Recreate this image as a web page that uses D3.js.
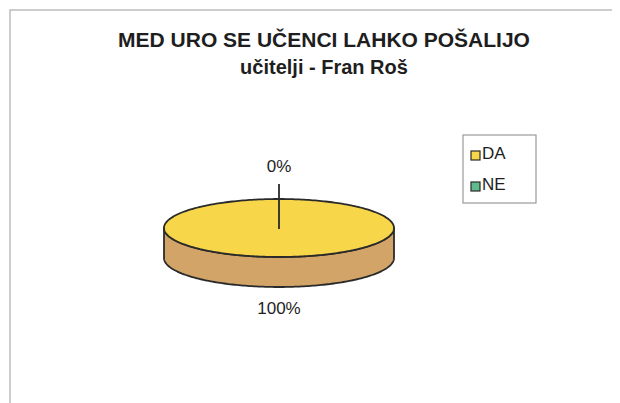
<!DOCTYPE html>
<html>
<head>
<meta charset="utf-8">
<script src="https://cdn.jsdelivr.net/npm/d3@7"></script>
<style>
  body { margin: 0; background: #fff; }
  text { font-family: "Liberation Sans", Arial, sans-serif; fill: #1e1e1e; }
</style>
</head>
<body>
<svg id="chart" width="620" height="403"></svg>
<script>
// data
const categories = ["DA", "NE"];
const values = [100, 0];
const labels = ["100%", "0%"];
const titleLines = ["MED URO SE UČENCI LAHKO POŠALIJO", "učitelji - Fran Roš"];

const topColors = ["#f8d64a", "#5fbb8e"];
const sideColors = ["#d3a467", "#3f9a6c"];

let svg = d3.select("#chart"),
    cx = 279, cy = 228,
    rx = 115, ry = 29,
    depth = 30;

// frame
svg.append("path")
    .attr("d", "M10,403 L10,10 L612,10")
    .attr("fill", "none")
    .attr("stroke", "#bdbdbd")
    .attr("stroke-width", 1.5);

svg.selectAll(".title")
    .data(titleLines)
    .enter().append("text")
    .attr("x", 324)
    .attr("y", (d, i) => 47 + i * 27)
    .attr("text-anchor", "middle")
    .attr("font-size", (d, i) => i ? 20 : 21)
    .attr("font-weight", "bold")
    .text(d => d);

let pie = d3.pie().sort(null).value(d => d);
let arcs = pie(values);

function pt(a, dy) {
    return [cx + rx * Math.sin(a), cy - ry * Math.cos(a) + (dy || 0)];
}
function arcPts(a0, a1, dy) {
    let n = Math.max(2, Math.ceil(Math.abs(a1 - a0) / 0.02));
    return d3.range(n + 1).map(i => pt(a0 + (a1 - a0) * i / n, dy));
}
const line = d3.line();

let g = svg.append("g");

// side walls (front half only)
arcs.forEach((d, i) => {
    let a0 = Math.max(d.startAngle, Math.PI / 2),
        a1 = Math.min(d.endAngle, Math.PI * 3 / 2);
    if (a1 <= a0) return;
    let top = arcPts(a0, a1, 0),
        bot = arcPts(a1, a0, depth);
    g.append("path")
        .attr("d", line(top.concat(bot)) + "Z")
        .attr("fill", sideColors[i])
        .attr("stroke", "#2a2a2a")
        .attr("stroke-width", 1.8)
        .attr("stroke-linejoin", "round");
});

// top faces
arcs.forEach((d, i) => {
    if (d.endAngle - d.startAngle <= 0) return;
    let pts = arcPts(d.startAngle, d.endAngle, 0);
    let full = d.endAngle - d.startAngle >= Math.PI * 2 - 1e-6;
    g.append("path")
        .attr("d", full ? line(pts) + "Z" : "M" + cx + "," + cy + "L" + line(pts).slice(1) + "Z")
        .attr("fill", topColors[i])
        .attr("stroke", "#2a2a2a")
        .attr("stroke-width", 1.8)
        .attr("stroke-linejoin", "round");
});

// labels
arcs.forEach((d, i) => {
    if (d.value === 0) {
        // zero slice: label above with leader line to centre
        g.append("line")
            .attr("x1", cx).attr("y1", 184)
            .attr("x2", cx).attr("y2", cy + 1)
            .attr("stroke", "#2a2a2a")
            .attr("stroke-width", 1.8);
        g.append("text")
            .attr("x", cx)
            .attr("y", 172)
            .attr("text-anchor", "middle")
            .attr("font-size", 17)
            .text(labels[i]);
    } else {
        let p = pt(Math.PI, depth);
        g.append("text")
            .attr("x", p[0])
            .attr("y", p[1] + 27)
            .attr("text-anchor", "middle")
            .attr("font-size", 17)
            .text(labels[i]);
    }
});

// legend
let legend = svg.append("g").attr("transform", "translate(463,135)");
legend.append("rect")
    .attr("width", 73).attr("height", 68)
    .attr("fill", "#fff")
    .attr("stroke", "#9a9a9a")
    .attr("stroke-width", 1.2);
let item = legend.selectAll(".item")
    .data(categories)
    .enter().append("g")
    .attr("transform", (d, i) => "translate(8," + (24 + i * 31) + ")");
item.append("rect")
    .attr("x", 0).attr("y", -8)
    .attr("width", 9).attr("height", 9)
    .attr("fill", (d, i) => topColors[i])
    .attr("stroke", "#2a2a2a")
    .attr("stroke-width", 1.2);
item.append("text")
    .attr("x", 11)
    .attr("y", 0)
    .attr("font-size", 17)
    .text(d => d);
</script>
</body>
</html>
